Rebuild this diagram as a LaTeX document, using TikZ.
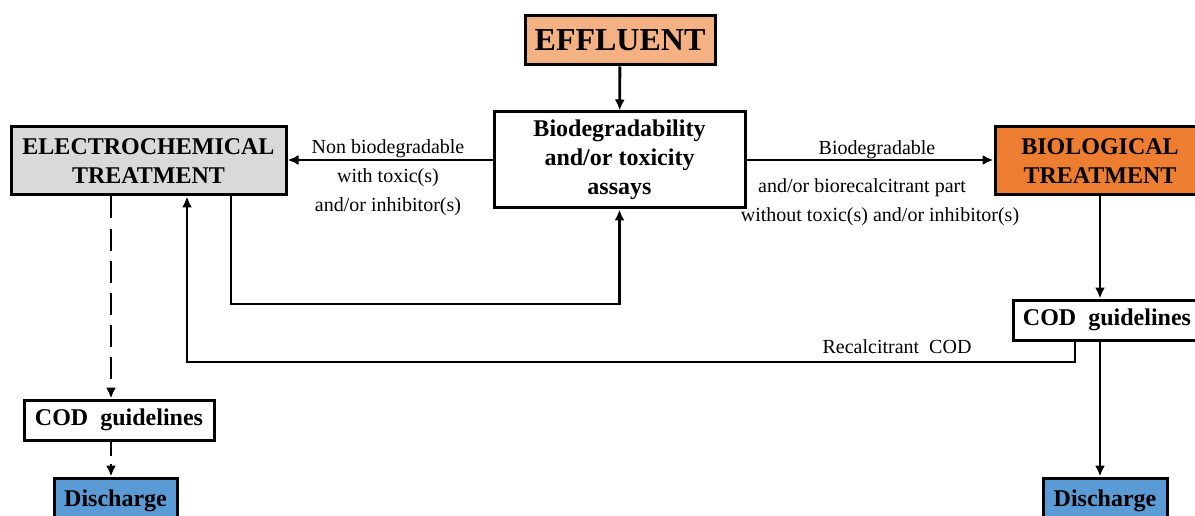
\documentclass[tikz,border=0pt]{standalone}
\usepackage{fontspec}
\setmainfont{Liberation Serif}
\usetikzlibrary{arrows.meta}
\definecolor{efflcol}{HTML}{F4B183}
\definecolor{biocol}{HTML}{ED7D31}
\definecolor{elcol}{HTML}{D9D9D9}
\definecolor{discol}{HTML}{5B9BD5}

\begin{document}
\begin{tikzpicture}[x=1pt,y=-1pt,
    box/.style={draw,line width=3pt,align=center,inner sep=0pt,
        font=\fontsize{24}{29}\selectfont\bfseries},
    lbl/.style={align=center,inner sep=0pt,font=\fontsize{20}{29}\selectfont},
    arr/.style={line width=2.8pt,-{Latex[length=11pt,width=10pt]}}]
                \useasboundingbox (0,0) rectangle (1195,516);
                \clip (0,0) rectangle (1195,516);

                \node[box,fill=efflcol,minimum width=190,minimum height=49,
                    font=\fontsize{32}{36}\selectfont\bfseries] (effl) at (620,40.5) {EFFLUENT};
                \node[box,fill=white,minimum width=251,minimum height=96] (assay) at (619.5,160)
                    {Biodegradability\\and/or toxicity\\assays};
                \node[box,fill=elcol,minimum width=275,minimum height=68] (electro) at (148.5,161)
                    {ELECTROCHEMICAL\\TREATMENT};
                \node[box,fill=biocol,minimum width=210,minimum height=68] (bio) at (1100,161)
                    {BIOLOGICAL\\TREATMENT};
                \node[box,fill=white,minimum width=188,minimum height=40] (codR) at (1107,320)
                    {COD\ \ guidelines};
                \node[box,fill=white,minimum width=190,minimum height=40] (codL) at (119,420)
                    {COD\ \ guidelines};
                \node[box,fill=discol,minimum width=123,minimum height=46] (disL) at (115.5,501) {Discharge};
                \node[box,fill=discol,minimum width=124,minimum height=46] (disR) at (1105,501) {Discharge};

                \node[lbl] (nonbio) at (388,178) {Non biodegradable\\with toxic(s)\\and/or inhibitor(s)};
                \node[lbl] (biolbl) at (877,150) {Biodegradable};
                \node[lbl] (partlbl) at (862,188) {and/or\ biorecalcitrant\ part};
                \node[lbl] (withlbl) at (880,217) {without\ toxic(s)\ and/or\ inhibitor(s)};
                \node[lbl] (rclbl) at (897,347) {Recalcitrant\ \ COD};

                \coordinate (back) at (231,304);
                \coordinate (recyc) at (1075,362);
                \coordinate (dash) at (111,0);

                \draw[arr] (effl) -- (assay);
                \draw[arr] (assay.west) -- (assay.west -| electro.east);
                \draw[arr] (assay.east) -- (assay.east -| bio.west);
                \draw[arr] (electro.south -| back) -- (back) -| (assay.south);
                \draw[arr] (bio.south) -- (bio.south |- codR.north);
                \draw[arr] (codR.south -| bio.south) -- (disR.north -| bio.south);
                \draw[arr] (codR.south -| recyc) -- (recyc) -| ([xshift=38.5]electro.south);
                \draw[arr,dash pattern=on 22pt off 10pt] (electro.south -| dash) -- (codL.north -| dash);
                \draw[arr,dash pattern=on 14pt off 8pt] (codL.south -| dash) -- (disL.north -| dash);
\end{tikzpicture}
\end{document}
